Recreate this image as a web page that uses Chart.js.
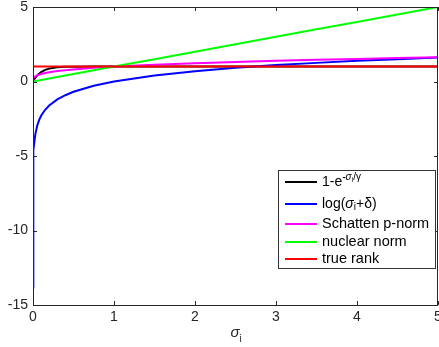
<!DOCTYPE html>
<html><head><meta charset="utf-8">
<script src="https://cdn.jsdelivr.net/npm/chart.js@4"></script>
<style>html,body{margin:0;padding:0;background:#fff}#wrap{width:439px;height:347px;position:relative}</style>
</head><body><div id="wrap"><canvas id="c"></canvas></div>
<script>
// sampled singular values (x)
const sigma    = [0, 0.0001, 0.001, 0.005, 0.01, 0.02, 0.03, 0.05, 0.075, 0.1, 0.15, 0.2, 0.3, 0.4, 0.5, 0.75, 1, 1.5, 2, 2.5, 3, 3.5, 4, 4.5, 5];
// series
const expCurve = [0, 0.001, 0.01, 0.049, 0.095, 0.181, 0.259, 0.393, 0.528, 0.632, 0.777, 0.865, 0.950, 0.982, 0.993, 0.999, 1, 1, 1, 1, 1, 1, 1, 1, 1];
const logCurve = [-13.82, -9.21, -6.91, -5.30, -4.61, -3.91, -3.51, -3.00, -2.59, -2.30, -1.90, -1.61, -1.20, -0.92, -0.69, -0.29, 0, 0.41, 0.69, 0.92, 1.10, 1.25, 1.39, 1.50, 1.61];
const schatten = [0, 0.063, 0.126, 0.204, 0.251, 0.309, 0.349, 0.407, 0.460, 0.501, 0.566, 0.617, 0.697, 0.760, 0.812, 0.917, 1, 1.129, 1.231, 1.316, 1.390, 1.456, 1.516, 1.570, 1.621];
const nuclear  = [0, 0.0001, 0.001, 0.005, 0.01, 0.02, 0.03, 0.05, 0.075, 0.1, 0.15, 0.2, 0.3, 0.4, 0.5, 0.75, 1, 1.5, 2, 2.5, 3, 3.5, 4, 4.5, 5];
const trueRank = [1, 1, 1, 1, 1, 1, 1, 1, 1, 1, 1, 1, 1, 1, 1, 1, 1, 1, 1, 1, 1, 1, 1, 1, 1];
const xTicks = [0, 1, 2, 3, 4, 5];
const yTicks = [-15, -10, -5, 0, 5];
const seriesNames = ['1-e^{-σi/γ}', 'log(σi+δ)', 'Schatten p-norm', 'nuclear norm', 'true rank'];
const xTitle = 'σ';
const xTitleSub = 'i';

const colors = ['#000000', '#0000ff', '#ff00ff', '#00ff00', '#ff0000'];
const allSeries = [expCurve, logCurve, schatten, nuclear, trueRank];
const FONT = '"Liberation Sans", Arial, Helvetica, sans-serif';
const AX = '#262626';

const datasets = allSeries.map((s, i) => ({
  label: seriesNames[i],
  data: sigma.map((x, k) => ({x: x, y: s[k]})),
  borderColor: colors[i],
  backgroundColor: colors[i],
  borderWidth: 2,
  pointRadius: 0,
  tension: 0,
  fill: false,
  order: 4 - i
}));

const legendRows = [
  [['1-e',14,0,''],['-σ',10,-5,'italic '],['i',7,-2,''],['/γ',10,-5,'']],
  [['log(',14,0,''],['σ',14,0,'italic '],['i',10,3,''],['+δ)',14,0,'']],
  [['Schatten p-norm',14.5,0,'']],
  [['nuclear norm',14.5,0,'']],
  [['true rank',14.5,0,'']]
];
const legendY = [182, 204, 224, 242, 259];

const framePlugin = {
  id: 'frame',
  afterDatasetsDraw(chart) {
    const {ctx, chartArea: a, scales} = chart;
    ctx.save();
    ctx.strokeStyle = AX;
    ctx.lineWidth = 1;
    ctx.strokeRect(Math.round(a.left) + 0.5, Math.round(a.top) + 0.5, Math.round(a.right - a.left) - 1, Math.round(a.bottom - a.top));
    ctx.beginPath();
    const tl = 4;
    xTicks.forEach(v => {
      const px = Math.round(scales.x.getPixelForValue(v)) + 0.5;
      ctx.moveTo(px, a.bottom); ctx.lineTo(px, a.bottom - tl);
      ctx.moveTo(px, a.top); ctx.lineTo(px, a.top + tl);
    });
    yTicks.forEach(v => {
      const py = Math.round(scales.y.getPixelForValue(v)) + 0.5;
      ctx.moveTo(a.left, py); ctx.lineTo(a.left + tl, py);
      ctx.moveTo(a.right, py); ctx.lineTo(a.right - tl, py);
    });
    ctx.stroke();
    ctx.restore();
  },
  afterDraw(chart) {
    const {ctx, chartArea: a} = chart;
    ctx.save();
    // x-axis title
    const cx = (a.left + a.right) / 2;
    ctx.fillStyle = AX;
    ctx.textBaseline = 'middle';
    ctx.font = 'italic 15px ' + FONT;
    ctx.fillText(xTitle, cx - 5, 333);
    ctx.font = '10px ' + FONT;
    ctx.fillText(xTitleSub, cx + 4, 339);
    // legend
    const bx = 278.5, by = 170.5, bw = 157, bh = 98;
    ctx.fillStyle = '#ffffff';
    ctx.fillRect(bx, by, bw, bh);
    ctx.strokeStyle = '#333333';
    ctx.lineWidth = 1;
    ctx.strokeRect(bx, by, bw, bh);
    legendRows.forEach((row, i) => {
      const y = legendY[i];
      ctx.strokeStyle = colors[i];
      ctx.lineWidth = 2;
      ctx.beginPath();
      ctx.moveTo(285, y); ctx.lineTo(317, y);
      ctx.stroke();
      let x = 322;
      ctx.fillStyle = '#000000';
      ctx.textBaseline = 'middle';
      row.forEach(([t, sz, dy, st]) => {
        ctx.font = st + sz + 'px ' + FONT;
        ctx.fillText(t, x, y + dy);
        x += ctx.measureText(t).width;
      });
    });
    ctx.restore();
  }
};

new Chart(document.getElementById('c'), {
  type: 'line',
  data: { datasets },
  plugins: [framePlugin],
  options: {
    responsive: true,
    maintainAspectRatio: false,
    animation: false,
    layout: { padding: { top: 7, right: 1, left: 0, bottom: 0 } },
    plugins: { legend: { display: false }, tooltip: { enabled: false } },
    scales: {
      x: {
        type: 'linear', min: 0, max: 5,
        afterBuildTicks(s) { s.ticks = xTicks.map(v => ({value: v})); },
        ticks: { color: AX, font: { size: 14, family: FONT }, padding: 4, maxRotation: 0, autoSkip: false },
        grid: { display: false, drawTicks: false },
        border: { display: false },
        afterFit(s) { s.height = 42; s.paddingLeft = 0; s.paddingRight = 0; }
      },
      y: {
        type: 'linear', min: -15, max: 5,
        afterBuildTicks(s) { s.ticks = yTicks.map(v => ({value: v})); },
        ticks: { color: AX, font: { size: 14, family: FONT }, padding: 5 },
        grid: { display: false, drawTicks: false },
        border: { display: false },
        afterFit(s) { s.width = 33; s.paddingTop = 0; s.paddingBottom = 0; }
      }
    }
  }
});
</script>
</body></html>
